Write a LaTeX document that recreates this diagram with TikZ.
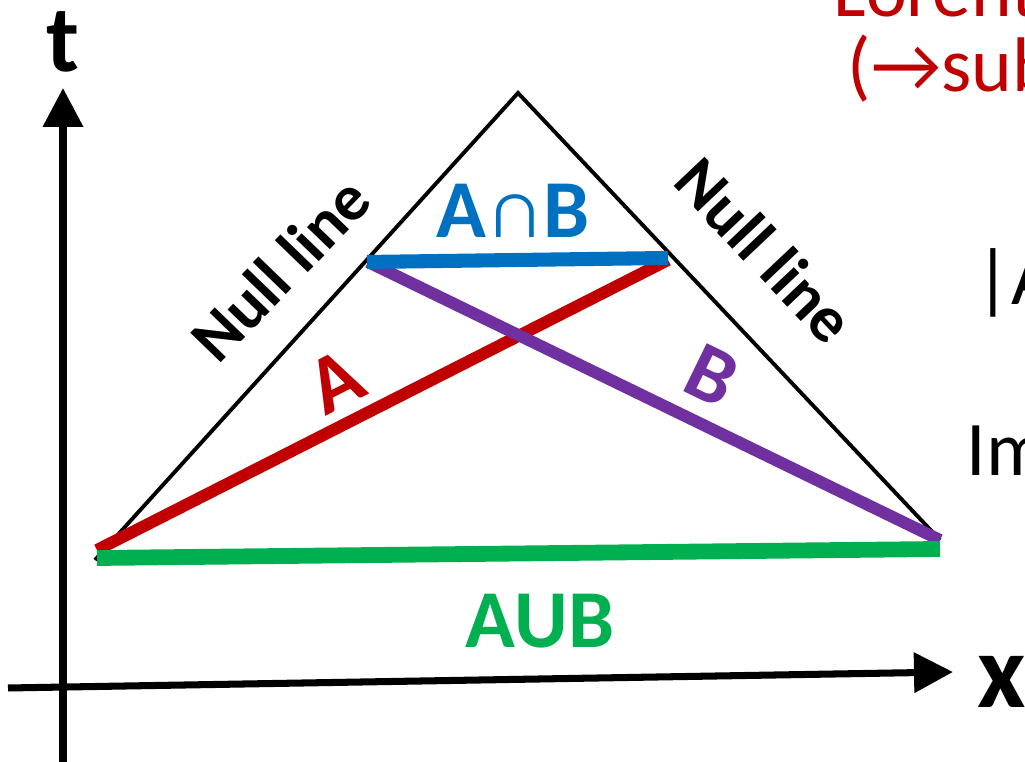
\documentclass[tikz,border=0pt]{standalone}
\usepackage{fontspec}
\setmainfont{Carlito}
\usetikzlibrary{arrows.meta}
\definecolor{ConeRed}{HTML}{C00000}
\definecolor{ConePurple}{HTML}{7030A0}
\definecolor{ConeBlue}{HTML}{0070C0}
\definecolor{ConeGreen}{HTML}{00B050}
\tikzset{
  cone/axis/.style={
    -{Triangle[length=3.9mm,width=3.9mm]}, line width=2pt, draw=black
  },
  cone/edge/.style={line width=1.1pt, draw=black},
  cone/interval/.style={line width=3.4pt},
  cone/axislabel/.style={inner sep=0pt, font=\fontsize{30}{34}\selectfont\bfseries},
  cone/label/.style={inner sep=0pt, font=\fontsize{23.4}{26}\selectfont\bfseries},
  cone/null/.style={inner sep=0pt, font=\fontsize{18.6}{21}\selectfont\bfseries},
  cone/side/.style={inner sep=0pt, anchor=base west, font=\fontsize{22}{26}\selectfont}
}

\begin{document}
\begin{tikzpicture}[x=.01cm,y=.01cm]
  \useasboundingbox (0,0) rectangle (1025,762);
  % axes
  \coordinate (torig) at (63,-10);
  \coordinate (ttip) at (63,674);
  \coordinate (xorig) at (8,74);
  \coordinate (xtip) at (953,90);
  \draw[cone/axis] (torig)--(ttip);
  \draw[cone/axis] (xorig)--(xtip);
  \node[cone/axislabel,font=\fontsize{27}{30}\selectfont\bfseries,anchor=base] (tlab) at (63,690) {t};
  \node[cone/axislabel,anchor=base west] (xlab) at (977,54) {x};
  % light cone
  \coordinate (apex) at (518,669);
  \coordinate (lv) at (95,202);
  \coordinate (rv) at (940,222);
  \draw[cone/edge] (lv)--(apex)--(rv);
  % intervals
  \coordinate (a0) at (97,212);  \coordinate (a1) at (668,502);
  \coordinate (b0) at (368,500); \coordinate (b1) at (940,222);
  \coordinate (c0) at (367,500); \coordinate (c1) at (668,504);
  \coordinate (u0) at (97,204);  \coordinate (u1) at (940,213);
  \draw[cone/interval,ConeRed] (a0)--(a1);
  \draw[cone/interval,ConePurple] (b0)--(b1);
  \draw[cone/interval,ConeGreen,line width=4.5pt] (u0)--(u1);
  \draw[cone/interval,ConeBlue,line width=4pt] (c0)--(c1);
  \node[cone/label,text=ConeBlue,anchor=base] (cap) at (513,524) {A{\mdseries∩}B};
  \node[cone/label,text=ConeGreen,anchor=base] (cup) at (540,114) {AUB};
  \node[cone/label,text=ConeRed,rotate=27] (alab) at (336,381) {A};
  \node[cone/label,text=ConePurple,rotate=-26] (blab) at (712,386) {B};
  \node[cone/null,rotate=46] (nl) at (280,493) {Null line};
  \node[cone/null,rotate=-46.6] (nr) at (765,512) {Null line};
  % text cut off at the right
  \node[cone/side,text=ConeRed] (lor) at (833,745) {Lorentz};
  \node[cone/side,text=ConeRed] (subs) at (847,670) {(→subs};
  \node[cone/side] (abs) at (975,457) {|A};
  \node[cone/side] (imag) at (966,286) {Im};
\end{tikzpicture}
\end{document}
